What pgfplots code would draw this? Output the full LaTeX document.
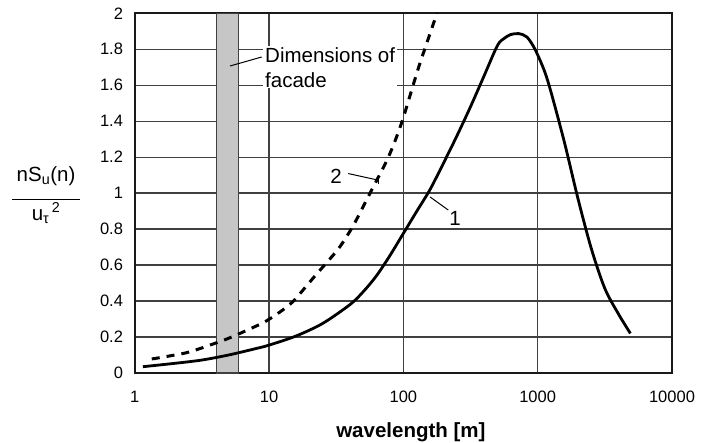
\documentclass[border=0pt]{standalone}
\usepackage{fontspec}
\setmainfont{Liberation Sans}
\usepackage{pgfplots}
\pgfplotsset{compat=1.18}
\begin{document}
\fontsize{16.5bp}{19bp}\selectfont
\begin{tikzpicture}
\path[use as bounding box] (0,0) rectangle (711bp,443bp);
\begin{axis}[
  at={(134.7bp,70bp)}, anchor=south west,
  scale only axis, width=537.3bp, height=359.7bp,
  xmode=log, log basis x=10,
  xmin=1, xmax=10000, ymin=0, ymax=2,
  clip=false,
  xtick={1,10,100,1000,10000},
  xticklabels={1,10,100,1000,10000},
  ytick={0,0.2,0.4,0.6,0.8,1,1.2,1.4,1.6,1.8,2},
  yticklabels={0,0.2,0.4,0.6,0.8,1,1.2,1.4,1.6,1.8,2},
  xminorticks=false,
  grid=major,
  major tick length=0pt,
  tick style={draw=none},
  major grid style={draw=black!75, line width=1.3bp},
  axis line style={line width=1.8bp, draw=black!90},
  tick label style={font=\fontsize{16.5bp}{19bp}\selectfont},
  xticklabel style={yshift=-12bp},
  yticklabel style={xshift=-6bp},
  xlabel={\textbf{wavelength [m]}},
  every axis x label/.style={at={(rel axis cs:0.514,-0.164)}, anchor=center, font=\fontsize{20.5bp}{24bp}\selectfont},
  ylabel={\begin{tabular}{@{}c@{}}nS\textsubscript{u}(n)\\[-6bp]\rule{68bp}{0.9bp}\\[-4bp]u\textsubscript{τ}\textsuperscript{\,2}\end{tabular}},
  every axis y label/.style={at={(rel axis cs:-0.165,0.492)}, anchor=center, font=\fontsize{20.5bp}{24bp}\selectfont},
]
% facade band
\addplot[fill=gray!45, draw=black!75, line width=1.2bp] coordinates {(4.05,0) (4.05,2) (5.9,2) (5.9,0)} -- cycle;
% curve 2 (dashed)
\addplot[black, line width=3bp, dash pattern=on 8bp off 7bp, smooth, tension=0.4] coordinates {
(1.34,0.078) (2.44,0.113) (3.96,0.165) (5.27,0.2) (9.07,0.28) (12.1,0.34) (15.2,0.40)
(22,0.54) (32.8,0.69) (42.4,0.82) (56.5,1.0) (75.2,1.18) (86.7,1.29) (100,1.42) (130,1.70) (178,2.0)};
% curve 1 (solid)
\addplot[black, line width=2.8bp, smooth, tension=0.5] coordinates {
(1.15,0.035) (2,0.054) (3.16,0.072) (5,0.10) (7.9,0.135) (10,0.155) (15.8,0.205) (25,0.275)
(40,0.38) (50,0.45) (63,0.54) (79,0.65) (100,0.776) (126,0.9) (158,1.02) (200,1.17)
(251,1.32) (316,1.48) (398,1.65) (501,1.82) (562,1.86) (631,1.882) (724,1.887) (832,1.868)
(955,1.80) (1122,1.68) (1259,1.56) (1585,1.28) (1995,0.97) (2512,0.69) (3162,0.47)
(3981,0.33) (4900,0.22)};
% annotations
\node[fill=white, inner xsep=2bp, inner ysep=1bp, anchor=west, align=left,
  font=\fontsize{20.5bp}{25bp}\selectfont] at (axis cs:9.02,1.70) {Dimensions of\\facade};
\draw[black, line width=1bp] (axis cs:5.125,1.707) -- (axis cs:8.82,1.757);
\node[font=\fontsize{20.5bp}{24bp}\selectfont] at (axis cs:31.5,1.092) {2};
\draw[black, line width=1bp] (axis cs:38.9,1.109) -- (axis cs:65.2,1.072);
\draw[black, line width=1.2bp] (axis cs:65.2,1.092) -- (axis cs:65.2,1.052);
\node[font=\fontsize{20.5bp}{24bp}\selectfont] at (axis cs:242.7,0.861) {1};
\draw[black, line width=1bp] (axis cs:158,0.979) -- (axis cs:216,0.906);
\end{axis}
\end{tikzpicture}
\end{document}
